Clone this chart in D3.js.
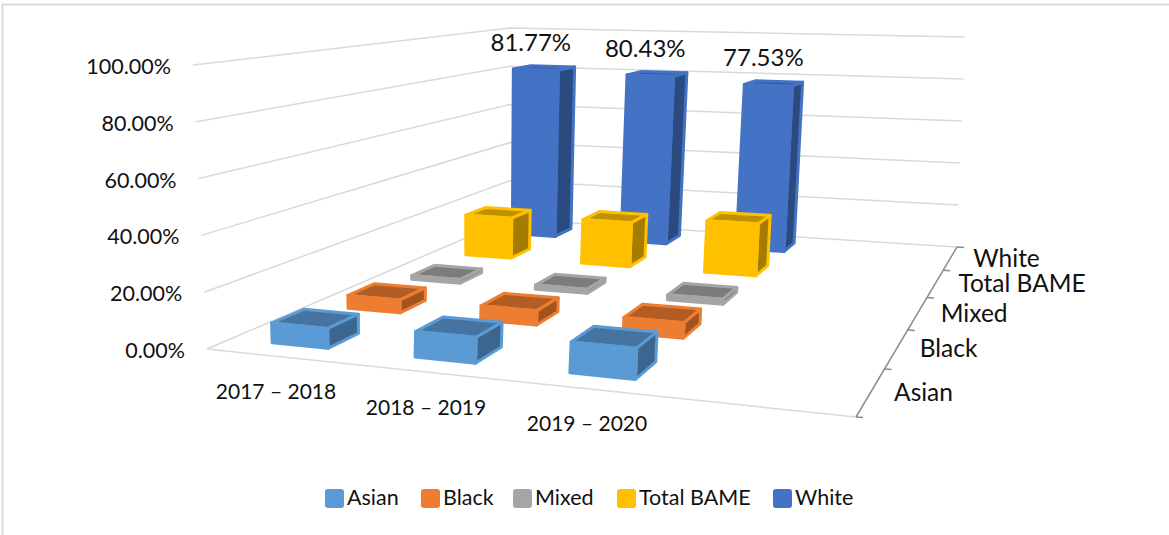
<!DOCTYPE html>
<html lang="en">
<head>
  <meta charset="UTF-8">
  <title>Ethnicity 3D bars</title>
  <script src="https://d3js.org/d3.v7.min.js"></script>
  <style>
    html, body { margin: 0; background: #fff; }
    svg { display: block; width: 1169px; height: 535px; }
    text { font-family: Lato, "Open Sans", sans-serif; font-size: 21.5px; fill: #111; }
    .depth-label { font-size: 24.5px; }
    .value-label { font-size: 24px; }
    .year-label { font-size: 21px; }
  </style>
</head>
<body>
  <svg></svg>

  <script>
    const categories = [`2017 – 2018`, `2018 – 2019`, `2019 – 2020`];
    const seriesNames = [`Asian`, `Black`, `Mixed`, `Total BAME`, `White`];
    const asian = [7.0, 8.8, 10.2];
    const black = [5.0, 5.4, 5.6];
    const mixed = [1.6, 1.7, 2.0];
    const totalBame = [18.23, 19.57, 22.47];
    const white = [81.77, 80.43, 77.53];
    const yTicks = [0, 20, 40, 60, 80, 100];

    const colors = [`#5B9BD5`, `#ED7D31`, `#A5A5A5`, `#FFC000`, `#4472C4`];
    const topColors = [`#44749F`, `#B15D25`, `#7C7C7C`, `#BF9000`, `#2F5597`];
    const sideColors = [`#3A668F`, `#A0541F`, `#6E6E6E`, `#A67C00`, `#2A4A80`];
    const seriesValues = [asian, black, mixed, totalBame, white];

    // plot box corners on screen, front = z 0, back = z 1
    const floor = {fl: [207, 349], fr: [856, 417], br: [957, 247], bl: [510, 219]};
    const ceil = {fl: [193, 65], fr: [865, 82], br: [965, 37], bl: [510, 28]};

    // unit square to quad, standard projective mapping
    const homography = q => {
      const dx1 = q.fr[0] - q.br[0], dx2 = q.bl[0] - q.br[0], sx = q.fl[0] - q.fr[0] + q.br[0] - q.bl[0];
      const dy1 = q.fr[1] - q.br[1], dy2 = q.bl[1] - q.br[1], sy = q.fl[1] - q.fr[1] + q.br[1] - q.bl[1];
      const det = dx1 * dy2 - dx2 * dy1;
      const g = (sx * dy2 - dx2 * sy) / det;
      const h = (dx1 * sy - sx * dy1) / det;
      const a = q.fr[0] - q.fl[0] + g * q.fr[0], b = q.bl[0] - q.fl[0] + h * q.bl[0];
      const d = q.fr[1] - q.fl[1] + g * q.fr[1], e = q.bl[1] - q.fl[1] + h * q.bl[1];
      return (u, v) => {
        const w = g * u + h * v + 1;
        return [(a * u + b * v + q.fl[0]) / w, (d * u + e * v + q.fl[1]) / w];
      };
    };
    const floorMap = homography(floor);
    const ceilMap = homography(ceil);

    // u along categories, v into depth, t up
    const project = (u, t, v) => {
      const p0 = floorMap(u, v), p1 = ceilMap(u, v);
      return [p0[0] + (p1[0] - p0[0]) * t, p0[1] + (p1[1] - p0[1]) * t];
    };

    const xScale = d3.scaleBand().domain(categories).range([0, 0.75]).paddingInner(0.6).paddingOuter(0.3);
    const zScale = d3.scaleBand().domain(seriesNames).range([0, 1]).paddingInner(0.6).paddingOuter(0.275);
    const yScale = d3.scaleLinear().domain([0, 100]).range([0, 1]);
    const zTicks = d3.scaleBand().domain(seriesNames).range([0, 1]);

    const yearLabelX = d3.scaleOrdinal().domain(categories).range([276, 426, 587]);
    const yearLabelY = d3.scaleOrdinal().domain(categories).range([399, 415, 431]);
    const legendSwatchX = d3.scaleOrdinal().domain(seriesNames).range([325, 421, 513, 617, 773]);

    const svg = d3.select(`svg`);
    const path = d3.line();

    // frame
    svg.append(`path`)
      .attr(`d`, `M2.5,535V4.5H1169`)
      .attr(`fill`, `none`)
      .attr(`stroke`, `#D9D9D9`)
      .attr(`stroke-width`, 2);

    // walls and floor
    const grid = svg.append(`g`).attr(`fill`, `none`).attr(`stroke`, `#D9D9D9`).attr(`stroke-width`, 1.5);
    grid.selectAll(`path`)
      .data(yTicks)
      .join(`path`)
      .attr(`d`, d => path([project(0, yScale(d), 0), project(0, yScale(d), 1), project(1, yScale(d), 1)]));
    grid.append(`path`).attr(`d`, path([floor.fl, floor.fr]));

    // depth axis
    svg.append(`path`)
      .attr(`d`, path([floor.fr, floor.br]))
      .attr(`fill`, `none`)
      .attr(`stroke`, `#8C8C8C`)
      .attr(`stroke-width`, 1.5);
    svg.append(`g`)
      .selectAll(`path`)
      .data(d3.range(0, 6).map(i => i / 5))
      .join(`path`)
      .attr(`d`, d => {
        const p = project(1, 0, d);
        return path([p, [p[0] + 7, p[1] + 0.5]]);
      })
      .attr(`stroke`, `#8C8C8C`)
      .attr(`stroke-width`, 1.5);

    // y labels sit along the left front edge
    svg.append(`g`)
      .selectAll(`text`)
      .data(yTicks)
      .join(`text`)
      .attr(`text-anchor`, `end`)
      .attr(`x`, d => project(0, yScale(d), 0)[0] - 22)
      .attr(`y`, d => project(0, yScale(d), 0)[1] + 9)
      .text(d => `${d.toFixed(2)}%`);

    svg.append(`g`)
      .selectAll(`text`)
      .data(categories)
      .join(`text`)
      .attr(`class`, `year-label`)
      .attr(`text-anchor`, `middle`)
      .attr(`x`, d => yearLabelX(d))
      .attr(`y`, d => yearLabelY(d))
      .text(d => d);

    svg.append(`g`)
      .selectAll(`text`)
      .data(seriesNames)
      .join(`text`)
      .attr(`class`, `depth-label`)
      .attr(`x`, d => project(1, 0, zTicks(d) + zTicks.bandwidth() / 2)[0] + 23)
      .attr(`y`, d => project(1, 0, zTicks(d) + zTicks.bandwidth() / 2)[1] + 9)
      .text(d => d);

    // bars, back row first
    const bars = d3.range(seriesNames.length - 1, -1, -1).flatMap(s =>
      categories.map((c, i) => ({s, c, value: seriesValues[s][i]})));

    const barGroups = svg.append(`g`)
      .selectAll(`g`)
      .data(bars)
      .join(`g`)
      .attr(`stroke`, d => colors[d.s])
      .attr(`stroke-width`, 3)
      .attr(`stroke-linejoin`, `round`);

    barGroups.each(function(d) {
      const u0 = xScale(d.c), u1 = u0 + xScale.bandwidth();
      const v0 = zScale(seriesNames[d.s]), v1 = v0 + zScale.bandwidth();
      const t = yScale(d.value);
      const g = d3.select(this);
      g.append(`path`)
        .attr(`fill`, topColors[d.s])
        .attr(`d`, path([project(u0, t, v0), project(u1, t, v0), project(u1, t, v1), project(u0, t, v1)]) + `Z`);
      g.append(`path`)
        .attr(`fill`, sideColors[d.s])
        .attr(`d`, path([project(u1, 0, v0), project(u1, t, v0), project(u1, t, v1), project(u1, 0, v1)]) + `Z`);
      g.append(`path`)
        .attr(`fill`, colors[d.s])
        .attr(`d`, path([project(u0, 0, v0), project(u1, 0, v0), project(u1, t, v0), project(u0, t, v0)]) + `Z`);
    });

    // data labels for White only
    svg.append(`g`)
      .selectAll(`text`)
      .data(categories)
      .join(`text`)
      .attr(`class`, `value-label`)
      .attr(`text-anchor`, `middle`)
      .attr(`x`, (d, i) => project(xScale(d) + xScale.bandwidth() / 2, yScale(white[i]), zScale(`White`))[0] - 5)
      .attr(`y`, (d, i) => project(xScale(d) + xScale.bandwidth() / 2, yScale(white[i]), zScale(`White`))[1] - 19)
      .text((d, i) => `${white[i].toFixed(2)}%`);

    // legend
    const legend = svg.append(`g`)
      .selectAll(`g`)
      .data(seriesNames)
      .join(`g`)
      .attr(`transform`, d => `translate(${legendSwatchX(d)},489)`);
    legend.append(`rect`)
      .attr(`width`, 19)
      .attr(`height`, 19)
      .attr(`rx`, 3)
      .attr(`fill`, (d, i) => colors[i]);
    legend.append(`text`)
      .attr(`x`, 22)
      .attr(`y`, 16)
      .text(d => d);
  </script>
</body>
</html>
